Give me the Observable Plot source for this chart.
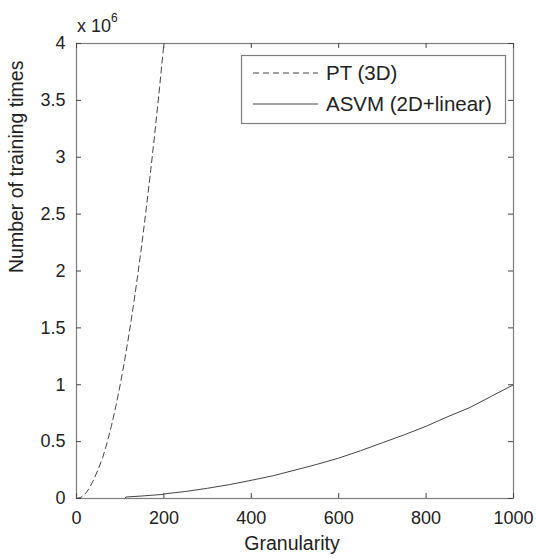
<!DOCTYPE html>
<html>
<head>
<meta charset="utf-8">
<script src="https://cdn.jsdelivr.net/npm/d3@7"></script>
<script src="https://cdn.jsdelivr.net/npm/@observablehq/plot@0.6"></script>
<style>
  html, body { margin: 0; padding: 0; background: #fff; }
  #chart { width: 536px; height: 558px; }
  svg { font-family: "Liberation Sans", Arial, Helvetica, sans-serif; }
</style>
</head>
<body>
<div id="chart"></div>
<script>
// Data (values in units of 10^6)
const ptX = [0, 10, 20, 30, 40, 50, 60, 70, 80, 90, 100, 110, 120, 130, 140, 150, 160, 170, 180, 190, 200];
const ptY = [0, 0.01, 0.04, 0.095, 0.17, 0.26, 0.36, 0.49, 0.64, 0.81, 1.0, 1.21, 1.44, 1.69, 1.96, 2.25, 2.56, 2.89, 3.24, 3.61, 4.0];
const asvmX = [0, 110, 113, 150, 198, 202, 250, 300, 350, 400, 450, 500, 550, 600, 650, 700, 750, 800, 850, 900, 950, 1000];
const asvmY = [0, 0, 0.013, 0.022, 0.036, 0.041, 0.062, 0.09, 0.122, 0.16, 0.2, 0.25, 0.3, 0.355, 0.42, 0.49, 0.56, 0.635, 0.72, 0.8, 0.9, 1.0];
const seriesNames = ["PT (3D)", "ASVM (2D+linear)"];
const xTicks = [0, 200, 400, 600, 800, 1000];
const yTicks = [0, 0.5, 1, 1.5, 2, 2.5, 3, 3.5, 4];
const xLabel = "Granularity";
const yLabel = "Number of training times";

const pt = ptX.map((x, i) => ({x, y: ptY[i]}));
const asvm = asvmX.map((x, i) => ({x, y: asvmY[i]}));

const W = 536, H = 558, mL = 76, mR = 23, mT = 43, mB = 60;
const innerW = W - mL - mR, innerH = H - mT - mB;
const tickLen = 5;
const textColor = "#222";
const axisColor = "#7d7d7d";
const lineColor = "#444";

const plot = Plot.plot({
  width: W, height: H,
  marginLeft: mL, marginRight: mR, marginTop: mT, marginBottom: mB,
  style: {fontFamily: "'Liberation Sans', Arial, sans-serif", color: textColor, background: "#fff"},
  x: {domain: [0, 1000], ticks: xTicks},
  y: {domain: [0, 4], ticks: yTicks},
  marks: [
    Plot.line(asvm, {x: "x", y: "y", stroke: lineColor, strokeWidth: 1}),
    Plot.line(pt, {x: "x", y: "y", stroke: lineColor, strokeWidth: 1, strokeDasharray: "6,4"}),
    Plot.frame({stroke: axisColor, strokeWidth: 1.2}),
    // inward ticks on all four sides
    Plot.tickX(xTicks, {x: d => d, stroke: "#444", insetTop: innerH - tickLen}),
    Plot.tickX(xTicks, {x: d => d, stroke: "#444", insetBottom: innerH - tickLen}),
    Plot.tickY(yTicks, {y: d => d, stroke: "#444", insetRight: innerW - tickLen}),
    Plot.tickY(yTicks, {y: d => d, stroke: "#444", insetLeft: innerW - tickLen}),
    Plot.axisX({ticks: xTicks, tickSize: 0, tickPadding: 13, fontSize: 18, label: null, tickFormat: d => String(d)}),
    Plot.axisY({ticks: yTicks, tickSize: 0, tickPadding: 11, fontSize: 18, label: null, tickFormat: d => String(d)}),
    Plot.text([xLabel], {frameAnchor: "bottom", dx: -3, dy: 45, fontSize: 19.5, fill: textColor, lineAnchor: "middle"}),
    Plot.text([yLabel], {frameAnchor: "left", dx: -60, dy: 2, rotate: -90, fontSize: 19.5, fill: textColor, lineAnchor: "middle"})
  ]
});
document.getElementById("chart").appendChild(plot);

// exponent label and legend
const svg = d3.select(plot);
const ex = svg.append("text").attr("x", mL + 1).attr("y", 32)
  .attr("text-anchor", "start").attr("fill", textColor).attr("font-size", 18);
ex.append("tspan").text("x 10");
ex.append("tspan").attr("dy", -10).attr("font-size", 12).text("6");

const lg = svg.append("g").attr("text-anchor", "start");
lg.append("rect").attr("x", 241.5).attr("y", 55.5).attr("width", 264).attr("height", 68)
  .attr("fill", "#fff").attr("stroke", axisColor).attr("stroke-width", 1.2);
const rows = [{y: 73, dash: "6,4"}, {y: 104, dash: null}];
rows.forEach((r, i) => {
  const l = lg.append("line").attr("x1", 253).attr("x2", 318).attr("y1", r.y).attr("y2", r.y)
    .attr("stroke", lineColor).attr("stroke-width", 1);
  if (r.dash) l.attr("stroke-dasharray", r.dash);
  lg.append("text").attr("x", 326).attr("y", r.y).attr("dy", "0.36em")
    .attr("text-anchor", "start").attr("font-size", 20.5).attr("fill", textColor).text(seriesNames[i]);
});
</script>
</body>
</html>
